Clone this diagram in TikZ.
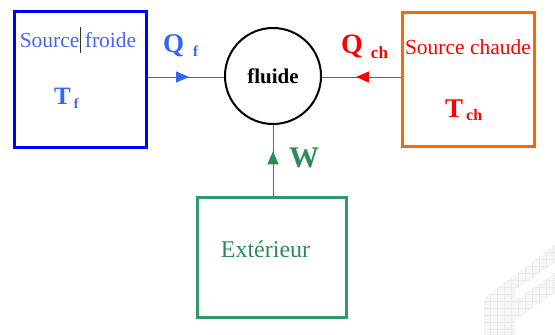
\documentclass[tikz,border=0pt]{standalone}
\usepackage{fontspec}
\setmainfont{Liberation Serif}
\usetikzlibrary{arrows.meta,decorations.markings}
\definecolor{bluebox}{RGB}{0,0,255}
\definecolor{bluetxt}{RGB}{70,100,250}
\definecolor{qblue}{RGB}{50,100,255}
\definecolor{orangebox}{RGB}{255,102,0}
\definecolor{redtxt}{RGB}{255,0,0}
\definecolor{greenbox}{RGB}{51,153,102}
\definecolor{greentxt}{RGB}{46,139,87}
\definecolor{linegray}{RGB}{100,100,100}
\newcommand{\fs}[1]{\fontsize{#1}{#1}\selectfont}
\tikzset{
  srcbox/.style={draw, line width=3pt, inner sep=0pt},
  lbl/.style={inner sep=0pt, anchor=base},
  flow/.style={draw=linegray, line width=1pt},
  midarrow/.style n args={2}{postaction={decorate}, decoration={markings,
     mark=at position #1 with {\arrow[#2]{Triangle[length=13pt,width=11pt]}}}}
}
\begin{document}
\begin{tikzpicture}[x=1pt,y=-1pt]
\useasboundingbox (0,0) rectangle (555,335);
% watermark
\begin{scope}
  \clip (484,335) -- (484,298) -- (555,245) -- (555,263) -- (515,290) -- (515,301)
        -- (555,273) -- (555,293) -- (515,320) -- (515,335) -- cycle;
  \fill[gray!8] (480,240) rectangle (555,335);
  \draw[gray!16, line width=0.5pt, step=7pt] (480,240) grid (555,335);
\end{scope}
% boxes
\node[srcbox, draw=bluebox, minimum width=132pt, minimum height=136pt] (bf) at (80.5,79.5) {};
\node[srcbox, draw=orangebox, minimum width=132pt, minimum height=134pt] (bc) at (468.5,79.5) {};
\node[srcbox, draw=greenbox, minimum width=149pt, minimum height=120pt] (ext) at (272,257.5) {};
\node[draw, line width=2pt, circle, minimum size=96pt, inner sep=0pt] (fl) at (273,76) {};
% connectors
\path[flow, midarrow={0.54}{qblue}] (bf.east |- 0,77) -- (fl.west |- 0,77);
\path[flow, midarrow={0.57}{redtxt}] (bc.west |- 0,77) -- (fl.east |- 0,77);
\path[flow, midarrow={0.63}{greentxt}] (ext.north -| 273,0) -- (fl.south);
% texts
\node[lbl, text=bluetxt, font=\fs{21.5}] (tsf) at (78,47) {Source froide};
\draw[black!80, line width=0.8pt] (80,27) -- (80,53);
\node[lbl, text=redtxt, font=\fs{21.5}] (tsc) at (468,54) {Source chaude};
\node[lbl, anchor=base west, text=qblue, font=\bfseries\fs{25}] (tf) at (54,104) {T\hspace{3pt}\raisebox{-4pt}{\fs{14}f}};
\node[lbl, anchor=base west, text=redtxt, font=\bfseries\fs{27}] (tch) at (445,117) {T\hspace{3pt}\raisebox{-3pt}{\fs{16}ch}};
\node[lbl, anchor=base west, text=qblue, font=\bfseries\fs{27}] (qf) at (163,52) {Q\hspace{9pt}\raisebox{-4pt}{\fs{15}f}};
\node[lbl, anchor=base west, text=redtxt, font=\bfseries\fs{28}] (qch) at (341,53) {Q\hspace{8pt}\raisebox{-5pt}{\fs{17}ch}};
\node[lbl, font=\bfseries\fs{21}] (tfl) at (273,83) {fluide};
\node[lbl, text=greentxt, font=\fs{24}] (tex) at (265.5,257) {Extérieur};
\node[lbl, anchor=base west, text=greentxt, font=\bfseries\fs{30}] (w) at (289,167) {W};
\end{tikzpicture}
\end{document}
